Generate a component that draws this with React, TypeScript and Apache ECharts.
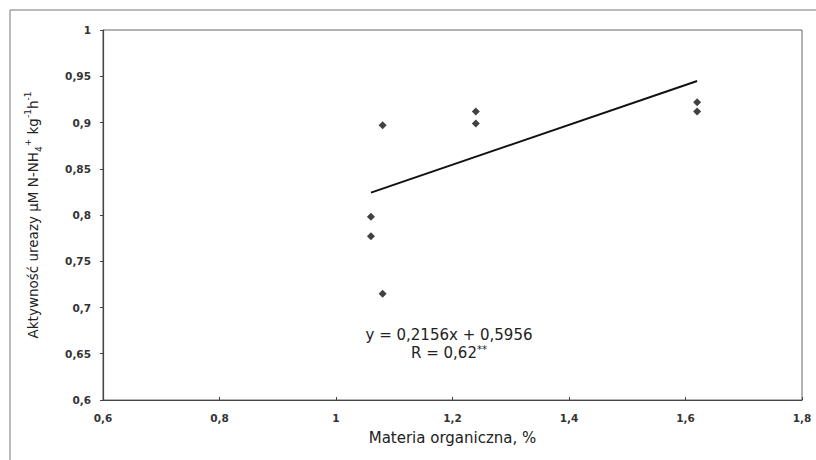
import React, { useEffect, useRef } from "react";
import * as echarts from "echarts";

// Organic matter (%) vs. urease activity
const organicMatter = [1.06, 1.06, 1.08, 1.08, 1.24, 1.24, 1.62, 1.62];
const ureaseActivity = [0.798, 0.777, 0.715, 0.897, 0.912, 0.899, 0.922, 0.912];

// Linear regression reported on the chart
const slope = 0.2156;
const intercept = 0.5956;
const rValue = "0,62";

const xTicks = { min: 0.6, max: 1.8, interval: 0.2 };
const yTicks = { min: 0.6, max: 1, interval: 0.05 };

// Axis numbers with a decimal comma
const fmt = (v: number) => String(+v.toFixed(2)).replace(".", ",");
const comma = (v: number) => String(v).replace(".", ",");

export default function App() {
  const ref = useRef<HTMLDivElement>(null);

  useEffect(() => {
    if (!ref.current) return;
    const chart = echarts.init(ref.current, null, { renderer: "svg" });

    const points = organicMatter.map((x, i) => [x, ureaseActivity[i]]);
    const xMin = Math.min(...organicMatter);
    const xMax = Math.max(...organicMatter);
    const trend = [xMin, xMax].map((x) => [x, slope * x + intercept]);

    const tickFont = {
      fontFamily: "DejaVu Sans",
      fontSize: 10.5,
      fontWeight: "bold",
      color: "#333",
    };

    const ink = "#222";

    chart.setOption({
      animation: false,
      backgroundColor: "#ffffff",
      grid: {
        left: 103,
        right: 14,
        top: 30,
        bottom: 60,
        show: true,
        borderColor: "#666",
        borderWidth: 1,
      },
      xAxis: {
        type: "value",
        min: xTicks.min,
        max: xTicks.max,
        interval: xTicks.interval,
        name: "Materia organiczna, %",
        nameLocation: "middle",
        nameGap: 30,
        nameTextStyle: {
          fontFamily: "DejaVu Sans",
          fontSize: 15,
          color: ink,
        },
        axisLine: { lineStyle: { color: "#444", width: 1.2 } },
        axisTick: { show: true, inside: true, length: 3, lineStyle: { color: "#444" } },
        splitLine: { show: false },
        axisLabel: { ...tickFont, margin: 12, formatter: fmt },
      },
      yAxis: {
        type: "value",
        min: yTicks.min,
        max: yTicks.max,
        interval: yTicks.interval,
        name:
          "{a|Aktywność ureazy µM N-NH}{sub|4}{sup|+}{a| kg}{sup|-1}{a|h}{sup|-1}",
        nameLocation: "middle",
        nameRotate: 90,
        nameGap: 60,
        nameTextStyle: {
          rich: {
            a: { fontFamily: "DejaVu Sans", fontSize: 13.5, color: ink, lineHeight: 20, verticalAlign: "middle" },
            sup: { fontFamily: "DejaVu Sans", fontSize: 9, color: ink, lineHeight: 20, verticalAlign: "top" },
            sub: { fontFamily: "DejaVu Sans", fontSize: 9, color: ink, lineHeight: 20, verticalAlign: "bottom" },
          },
        },
        axisLine: { show: true, lineStyle: { color: "#444", width: 1.2 } },
        axisTick: { show: true, length: 3, lineStyle: { color: "#444" } },
        splitLine: { show: false },
        axisLabel: { ...tickFont, margin: 12, formatter: fmt },
      },
      series: [
        {
          type: "scatter",
          data: points,
          symbol: "diamond",
          symbolSize: 8,
          itemStyle: { color: "#111" },
          z: 3,
        },
        {
          type: "line",
          data: trend,
          symbol: "none",
          lineStyle: { color: "#111", width: 2 },
          z: 2,
        },
      ],
      graphic: [
        {
          type: "rect",
          shape: { x: 10, y: 10, width: 840, height: 480 },
          style: { fill: "none", stroke: "#777", lineWidth: 1 },
          silent: true,
        },
        {
          type: "text",
          x: 449,
          y: 335,
          style: {
            text: `y = ${comma(slope)}x + ${comma(intercept)}`,
            fontFamily: "DejaVu Sans",
            fontSize: 15,
            fill: ink,
            align: "center",
            verticalAlign: "middle",
          },
        },
        {
          type: "text",
          x: 449,
          y: 353,
          style: {
            text: `{t|R = ${rValue}}{s|**}`,
            rich: {
              t: { fontFamily: "DejaVu Sans", fontSize: 15, fill: ink, lineHeight: 18, verticalAlign: "middle" },
              s: { fontFamily: "DejaVu Sans", fontSize: 10, fill: ink, lineHeight: 18, verticalAlign: "top" },
            },
            align: "center",
            verticalAlign: "middle",
          },
        },
      ],
    });

    return () => chart.dispose();
  }, []);

  return (
    <div
      ref={ref}
      style={{ position: "absolute", left: 0, top: 0, width: 816, height: 460 }}
    />
  );
}
